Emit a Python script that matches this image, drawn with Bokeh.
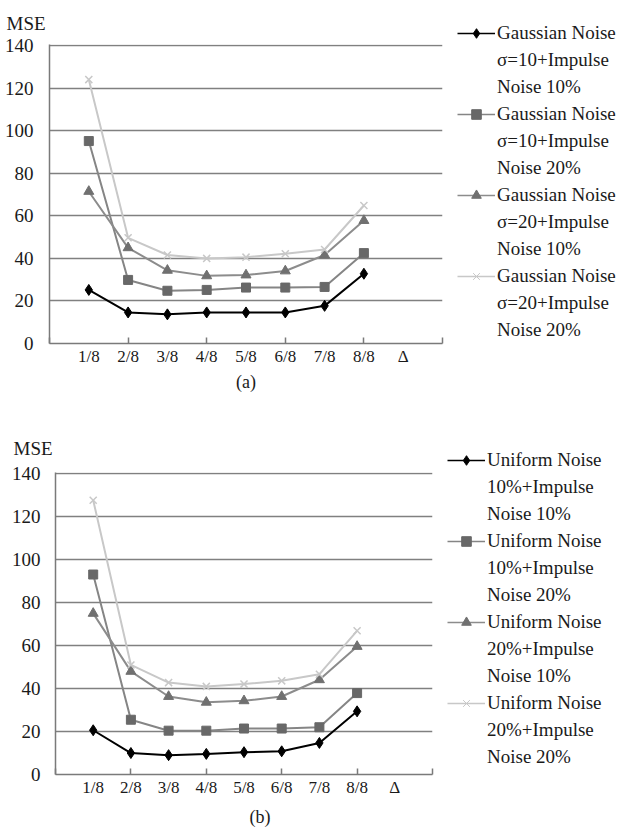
from bokeh.plotting import figure
from bokeh.models import Range1d, FixedTicker, Legend, LegendItem, Title
from bokeh.layouts import column, row
from bokeh.embed import file_html
from bokeh.resources import INLINE

categories = ["1/8", "2/8", "3/8", "4/8", "5/8", "6/8", "7/8", "8/8", "Δ"]
y_ticks = [0, 20, 40, 60, 80, 100, 120, 140]

# (a) Gaussian noise + impulse noise
a_g10_i10 = [25.2, 14.6, 13.7, 14.6, 14.6, 14.6, 17.7, 32.8]
a_g10_i20 = [95.2, 29.9, 24.8, 25.2, 26.3, 26.3, 26.6, 42.5]
a_g20_i10 = [71.5, 45.0, 34.4, 31.8, 32.2, 34.1, 41.6, 57.8]
a_g20_i20 = [124.1, 49.7, 41.6, 40.0, 40.6, 42.2, 44.2, 64.9]
a_labels = [["Gaussian Noise", "σ=10+Impulse", "Noise 10%"],
            ["Gaussian Noise", "σ=10+Impulse", "Noise 20%"],
            ["Gaussian Noise", "σ=20+Impulse", "Noise 10%"],
            ["Gaussian Noise", "σ=20+Impulse", "Noise 20%"]]

# (b) Uniform noise + impulse noise
b_u10_i10 = [20.6, 10.0, 9.0, 9.6, 10.4, 10.8, 14.7, 29.4]
b_u10_i20 = [93.1, 25.5, 20.4, 20.4, 21.4, 21.4, 22.0, 37.9]
b_u20_i10 = [75.0, 48.0, 36.3, 33.6, 34.3, 36.3, 44.1, 59.6]
b_u20_i20 = [127.7, 51.0, 42.8, 41.0, 42.1, 43.6, 46.7, 66.9]
b_labels = [["Uniform Noise", "10%+Impulse", "Noise 10%"],
            ["Uniform Noise", "10%+Impulse", "Noise 20%"],
            ["Uniform Noise", "20%+Impulse", "Noise 10%"],
            ["Uniform Noise", "20%+Impulse", "Noise 20%"]]

FONT = "Liberation Serif"
TXT = "#1a1a1a"
AX = "#7a7a7a"
NAN = float("nan")

styles = [
    dict(marker="diamond", line="#000000", fill="#000000", size=11, lsize=9, lw=2.0),
    dict(marker="square", line="#858585", fill="#686868", size=9, lsize=7, lw=2.0),
    dict(marker="triangle", line="#8c8c8c", fill="#707070", size=10, lsize=8, lw=2.0),
    dict(marker="x", line="#c8c8c8", fill="#c8c8c8", size=10, lsize=8, lw=2.0),
]


def make_chart(series, width, height, mb_left, mb_top, mb_bottom, ystand,
               tag, tag_align, tag_off, tag_stand, mse_off, mse_stand):
    p = figure(width=width, height=height, output_backend="svg", toolbar_location=None,
               x_range=Range1d(0, len(categories) + 1), y_range=Range1d(0, 140.6),
               min_border_left=mb_left, min_border_right=2,
               min_border_top=mb_top, min_border_bottom=mb_bottom)
    p.frame_align = False
    p.outline_line_color = None
    p.background_fill_color = "white"
    p.border_fill_color = "white"

    xs = list(range(1, len(categories) + 1))
    p.xaxis.ticker = FixedTicker(ticks=xs, minor_ticks=[0, 2, 4, 6, 8, 10])
    p.xaxis.major_label_overrides = {x: c for x, c in zip(xs, categories)}
    p.xaxis.major_tick_in = 0
    p.xaxis.major_tick_out = 0
    p.xaxis.minor_tick_in = 6
    p.xaxis.minor_tick_out = 0
    p.xaxis.minor_tick_line_color = AX
    p.xaxis.minor_tick_line_width = 1.5
    p.xaxis.axis_line_color = AX
    p.xaxis.axis_line_width = 1.5
    p.xaxis.major_label_text_font = FONT
    p.xaxis.major_label_text_font_size = "17px"
    p.xaxis.major_label_text_color = TXT
    p.xaxis.major_label_standoff = 3

    p.yaxis.ticker = FixedTicker(ticks=y_ticks)
    p.yaxis.major_tick_in = 0
    p.yaxis.major_tick_out = 0
    p.yaxis.minor_tick_line_color = None
    p.yaxis.axis_line_color = AX
    p.yaxis.axis_line_width = 1.5
    p.yaxis.major_label_text_font = FONT
    p.yaxis.major_label_text_font_size = "19px"
    p.yaxis.major_label_text_color = TXT
    p.yaxis.major_label_standoff = ystand

    p.xgrid.visible = False
    p.ygrid.ticker = FixedTicker(ticks=y_ticks[1:])
    p.ygrid.grid_line_color = "#808080"
    p.ygrid.grid_line_width = 1.4

    for ys, st in zip(series, styles):
        xv = xs[:len(ys)]
        p.line(xv, ys, line_color=st["line"], line_width=st["lw"])
        p.scatter(xv, ys, marker=st["marker"], size=st["size"],
                  fill_color=st["fill"], line_color=st["fill"],
                  line_width=1.5 if st["marker"] == "x" else 1)

    p.add_layout(Title(text="MSE", align="left", offset=mse_off, standoff=mse_stand,
                       text_font=FONT, text_font_size="19px", text_font_style="normal",
                       text_color=TXT), "above")
    p.add_layout(Title(text=tag, align=tag_align, offset=tag_off, standoff=tag_stand,
                       text_font=FONT, text_font_size="18px", text_font_style="normal",
                       text_color=TXT), "below")
    return p


def make_legend(labels, width, height, mb_left, mb_top, font_size):
    lf = figure(width=width, height=height, output_backend="svg", toolbar_location=None,
                x_range=Range1d(0, 1), y_range=Range1d(0, 1),
                min_border_left=mb_left, min_border_right=0,
                min_border_top=mb_top, min_border_bottom=0,
                x_axis_type=None, y_axis_type=None)
    lf.frame_align = False
    lf.outline_line_color = None
    lf.xgrid.visible = False
    lf.ygrid.visible = False
    blank = lf.line([NAN], [NAN], line_alpha=0)
    items = []
    for lines, st in zip(labels, styles):
        r1 = lf.line([NAN], [NAN], line_color=st["line"], line_width=1.5)
        r2 = lf.scatter([NAN], [NAN], marker=st["marker"], size=st["lsize"],
                        fill_color=st["fill"], line_color=st["fill"])
        items.append(LegendItem(label=lines[0], renderers=[r1, r2]))
        for extra in lines[1:]:
            items.append(LegendItem(label=extra, renderers=[blank]))
    leg = Legend(items=items, location="top_left", glyph_width=38, glyph_height=24,
                 label_height=24, label_standoff=2, spacing=3, padding=0, margin=0,
                 border_line_alpha=0, background_fill_alpha=0,
                 label_text_font=FONT, label_text_font_size=font_size,
                 label_text_color=TXT, label_text_baseline="middle")
    lf.add_layout(leg, "center")
    return lf


pa = make_chart([a_g10_i10, a_g10_i20, a_g20_i10, a_g20_i20], 444, 405, 49, 44, 62, 16,
                "(a)", "center", 0, 2, -43, 21)
la = make_legend(a_labels, 174, 405, 13, 21, "19px")
pb = make_chart([b_u10_i10, b_u10_i20, b_u20_i10, b_u20_i20], 434, 426, 55, 67, 57, 15,
                "(b)", "left", 194, 10, -42, 27)
lb = make_legend(b_labels, 184, 426, 13, 43, "19px")

layout = column(row(pa, la), row(pb, lb))
open("out.html", "w").write(file_html(layout, INLINE))
